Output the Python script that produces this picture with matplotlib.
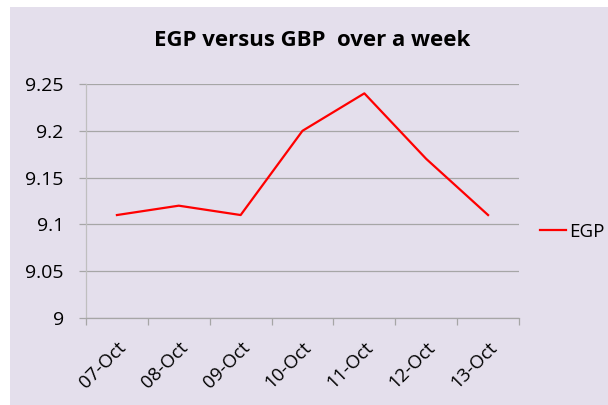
import matplotlib
matplotlib.use("Agg")
import matplotlib.pyplot as plt
from matplotlib.patches import Rectangle
from matplotlib.transforms import ScaledTranslation

categories = ["07-Oct", "08-Oct", "09-Oct", "10-Oct", "11-Oct", "12-Oct", "13-Oct"]
egp = [9.11, 9.12, 9.11, 9.20, 9.24, 9.17, 9.11]
yticks = [9.0, 9.05, 9.1, 9.15, 9.2, 9.25]
ytick_labels = ["9", "9.05", "9.1", "9.15", "9.2", "9.25"]

W, H = 608, 405
bg = "#E4DFEC"
plt.rcParams['font.family'] = ['Open Sans', 'DejaVu Sans']

fig = plt.figure(figsize=(W / 100, H / 100), dpi=100)
fig.patch.set_facecolor("white")
fig.patches.append(Rectangle((10 / W, 0), 1 - 10 / W, (H - 7) / H,
                             transform=fig.transFigure, facecolor=bg,
                             edgecolor="none", zorder=-10))

ax = fig.add_axes([86 / W, 87 / H, (519 - 86) / W, (318 - 84) / H])
ax.set_facecolor("none")
ax.set_zorder(5)

x = list(range(len(categories)))
ax.plot(x, egp, color="#FF0000", linewidth=1.6, label="EGP", zorder=3)

ax.set_xlim(-0.5, len(categories) - 0.5)
ax.set_ylim(9.0, 9.25)
ax.set_yticks(yticks)
ax.set_yticklabels(ytick_labels)
ax.yaxis.grid(True, color="#A6A6A6", linewidth=0.9)
ax.set_axisbelow(True)

# category ticks between categories
ax.set_xticks([i - 0.5 for i in range(len(categories) + 1)], minor=False)
ax.set_xticklabels([])
ax.set_xticks(x, minor=True)
ax.set_xticklabels(categories, minor=True, rotation=45, ha="right",
                   rotation_mode="anchor", fontsize=13.5)
shift = ScaledTranslation(-5 / 100, 0, fig.dpi_scale_trans)
for lab in ax.get_xticklabels(minor=True):
    lab.set_transform(lab.get_transform() + shift)
ax.tick_params(axis="x", which="major", length=5, color="#A6A6A6", width=0.9)
ax.tick_params(axis="x", which="minor", length=0, pad=15)
ax.tick_params(axis="y", length=5, color="#A6A6A6", width=0.9, labelsize=14, pad=11)

for s in ["top", "right"]:
    ax.spines[s].set_visible(False)
ax.spines["left"].set_color("#BFBFBF")
ax.spines["left"].set_linewidth(0.9)
ax.spines["bottom"].set_color("#A6A6A6")
ax.spines["bottom"].set_linewidth(0.9)

fig.text(312 / W, 1 - 41 / H, "EGP versus GBP  over a week", ha="center",
         va="center", fontsize=16, fontweight="bold")

fig.legend(loc="center left", bbox_to_anchor=(532 / W, 1 - 232 / H),
           frameon=False, fontsize=13.5, handlelength=1.4, handletextpad=0.2,
           borderaxespad=0)

fig.savefig("out.png", dpi=100, facecolor=fig.get_facecolor())
